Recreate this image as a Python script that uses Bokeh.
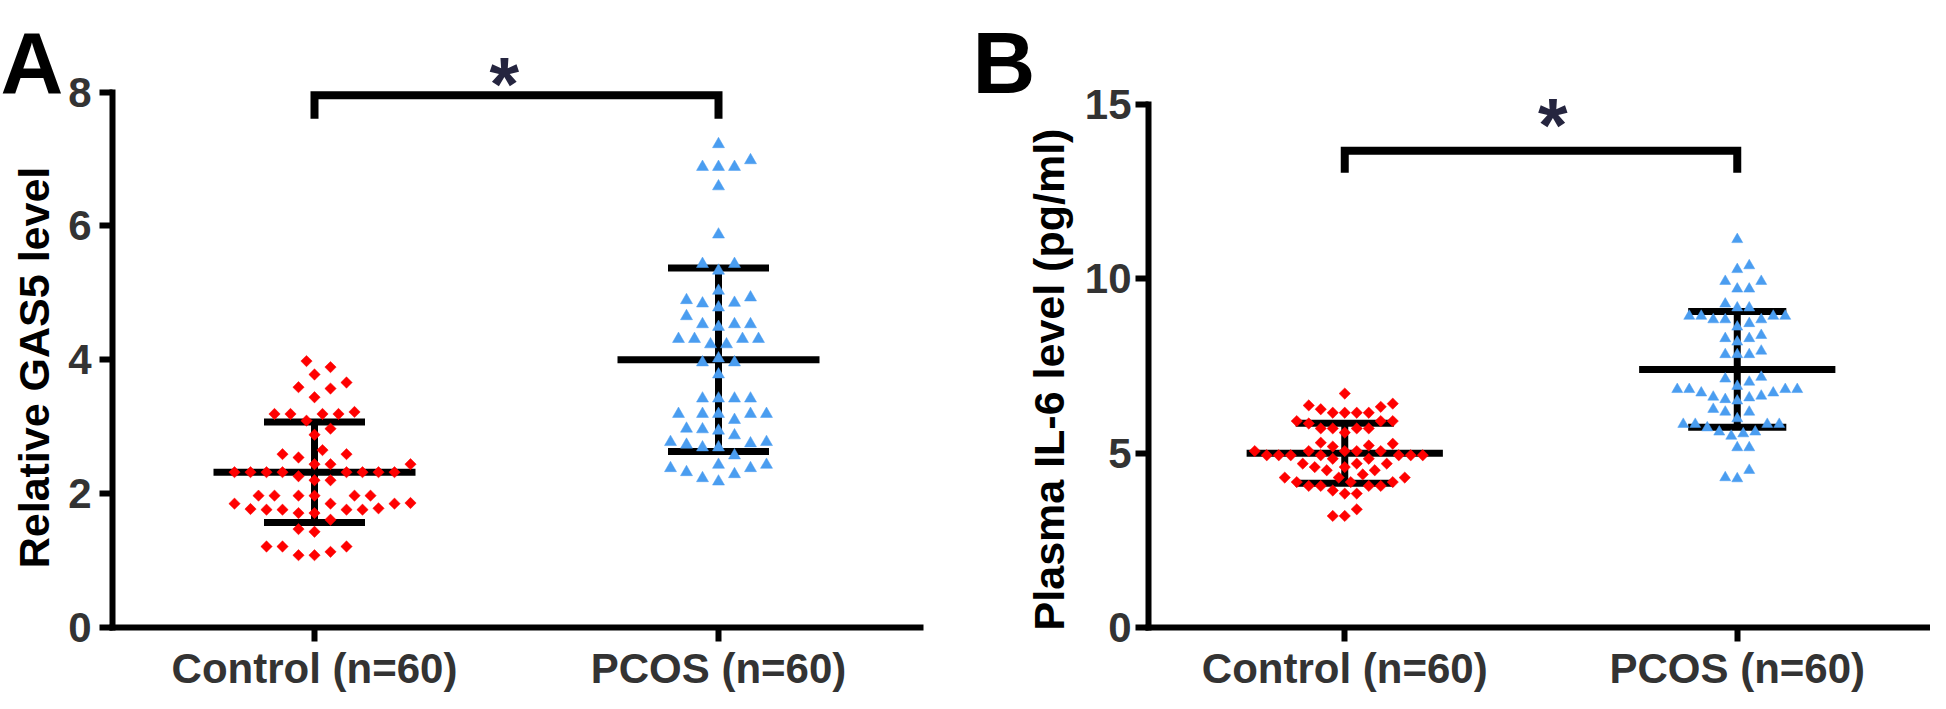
import numpy as np
from bokeh.plotting import figure
from bokeh.layouts import row
from bokeh.models import Range1d, FixedTicker
from bokeh.embed import file_html
from bokeh.resources import INLINE
from bokeh.core.properties import value

# ---------------- data ----------------
categories = ["Control (n=60)", "PCOS (n=60)"]
cat_pos = [1, 2]

gas5_control = [3.98, 3.89, 3.78, 3.59, 3.57, 3.66, 3.44,
                3.19, 3.19, 3.19, 3.19, 3.22, 3.09, 2.97, 2.88,
                2.65, 2.59, 2.54, 2.59, 2.44, 2.44, 2.44,
                2.32, 2.32, 2.32, 2.32, 2.32, 2.32, 2.32, 2.32,
                2.26, 2.20, 2.20,
                1.97, 1.97, 1.97, 1.97, 1.97, 1.97,
                1.85, 1.85, 1.85, 1.86,
                1.77, 1.76, 1.76, 1.71, 1.71, 1.76, 1.76, 1.78,
                1.61, 1.47, 1.43, 1.21, 1.21, 1.21, 1.13, 1.08, 1.08]
gas5_pcos = [7.22, 6.98, 6.88, 6.88, 6.88, 6.59, 5.87, 5.43, 5.43, 5.33,
             5.03, 4.89, 4.93, 4.84, 4.78, 4.85, 4.65, 4.53, 4.53, 4.49,
             4.53, 4.31, 4.31, 4.31, 4.31, 4.23, 4.23, 4.02, 3.96, 3.96,
             3.78, 3.42, 3.42, 3.42, 3.42, 3.19, 3.19, 3.19, 3.19, 3.19,
             3.10, 2.87, 2.96, 2.94, 2.97, 2.77, 2.73, 2.75, 2.77, 2.69,
             2.69, 2.57, 2.38, 2.43, 2.43, 2.32, 2.38, 2.29, 2.18, 2.23]
il6_control = [6.71, 6.42, 6.33, 6.37, 6.26, 6.16, 6.16, 6.16, 6.16,
               5.92, 5.92, 5.92, 5.85, 5.71, 5.71, 5.71, 5.71, 5.59,
               5.30, 5.27, 5.22, 5.19, 5.06, 5.06, 5.06, 5.06, 5.06,
               4.94, 4.94, 4.94, 4.94, 4.94, 4.94, 4.94, 4.84, 4.84,
               4.70, 4.70, 4.70, 4.60, 4.60, 4.51, 4.51, 4.39,
               4.30, 4.17, 4.17, 4.17, 4.30, 4.30,
               4.06, 4.06, 4.06, 4.06, 3.84, 3.84, 3.93, 3.39, 3.20, 3.20]
il6_pcos = [11.13, 10.38, 10.27, 9.93, 9.93, 9.71, 9.71, 9.17, 9.28, 9.17,
            8.83, 8.93, 8.93, 8.93, 8.93, 8.83, 8.83, 8.72, 8.62, 8.38,
            8.29, 8.29, 8.19, 7.93, 7.83, 7.83, 7.83, 7.13, 7.18, 6.92,
            7.04, 6.83, 6.83, 6.83, 6.83, 6.64, 6.73, 6.73, 6.59, 6.54,
            6.61, 6.50, 6.26, 6.18, 6.18, 5.99, 5.83, 5.83, 5.73, 5.83,
            5.83, 5.61, 5.56, 5.49, 5.61, 5.16, 5.16, 4.51, 4.27, 4.30]

gas5_mean = [2.32, 4.00]
gas5_sd = [0.75, 1.37]
il6_mean = [5.00, 7.40]
il6_sd = [0.86, 1.66]

# ---------------- style / layout ----------------
FONT = "Liberation Sans"
RED = "#ff0000"
BLUE = "#4a9df0"
TICK_COLOR = "#333333"
STAR_COLOR = "#25253f"
FIG_H = 693          # page y 8 .. 701
PAGE_TOP = 8
Y0_PAGE = 635        # page y of value 0


def swarm(vals, ppx, ppy, step, dist):
    vals = np.asarray(vals, dtype=float)
    order = np.argsort(vals)
    placed = []
    offs = np.zeros(len(vals))
    for k, i in enumerate(order):
        y = vals[i] * ppy
        cands = [0.0]
        for m in range(1, 80):
            a, b = m * step, -m * step
            cands += [a, b] if k % 2 == 0 else [b, a]
        chosen = 0.0
        for c in cands:
            if all((c - px) ** 2 + (y - py) ** 2 >= dist ** 2 for px, py in placed):
                chosen = c
                break
        placed.append((chosen, y))
        offs[i] = chosen / ppx
    return offs


def panel(page_left, width, axis_page_x, x_ppu, y_axis_max, y_top_page, ticks, ylabel,
          ylabel_pos, ctrl, pcos, mean, sd, bracket_top, bracket_drop, star_xy,
          letter, letter_page, ytick_standoff, swarm_step, swarm_dist, tri_size):
    y_ppu = (Y0_PAGE - y_top_page) / y_axis_max
    # page -> data helpers
    to_x = lambda px: 0.5 + (px - axis_page_x) / x_ppu
    to_y = lambda py: (Y0_PAGE - py) / y_ppu

    x_start = to_x(page_left)
    x_end = to_x(page_left + width)
    y_start = to_y(PAGE_TOP + FIG_H)
    y_end = to_y(PAGE_TOP)

    p = figure(width=width, height=FIG_H, output_backend="svg", toolbar_location=None,
               x_range=Range1d(x_start, x_end), y_range=Range1d(y_start, y_end),
               min_border_left=0, min_border_right=0,
               min_border_top=0, min_border_bottom=0)
    p.outline_line_color = None
    p.grid.visible = False
    p.background_fill_color = "white"
    p.border_fill_color = "white"

    # error bars (mean +/- SD)
    half_mean, half_cap = 0.25, 0.125
    for c, m, s in zip(cat_pos, mean, sd):
        p.segment(x0=[c], y0=[m - s], x1=[c], y1=[m + s], line_color="black", line_width=7)
        p.segment(x0=[c - half_mean], y0=[m], x1=[c + half_mean], y1=[m],
                  line_color="black", line_width=7)
        p.segment(x0=[c - half_cap, c - half_cap], y0=[m + s, m - s],
                  x1=[c + half_cap, c + half_cap], y1=[m + s, m - s],
                  line_color="black", line_width=7)

    # points
    off_c = swarm(ctrl, x_ppu, y_ppu, swarm_step, swarm_dist)
    off_p = swarm(pcos, x_ppu, y_ppu, swarm_step, swarm_dist)
    p.scatter(x=cat_pos[0] + off_c, y=ctrl, marker="square", size=8, angle=np.pi / 4,
              fill_color=RED, line_color=RED, line_width=0.5)
    p.scatter(x=cat_pos[1] + off_p, y=pcos, marker="triangle", size=tri_size,
              fill_color=BLUE, line_color=BLUE, line_width=0.5)

    # significance bracket and star
    p.line(x=[cat_pos[0], cat_pos[0], cat_pos[1], cat_pos[1]],
           y=[bracket_drop, bracket_top, bracket_top, bracket_drop],
           line_color="black", line_width=8, line_join="miter")
    p.text(x=[star_xy[0]], y=[star_xy[1]], text=["*"], text_font=value(FONT),
           text_font_style="bold", text_font_size="76px", text_color=STAR_COLOR,
           text_align="center", text_baseline="alphabetic", y_offset=18)

    # y axis title (rotated)
    p.text(x=[to_x(ylabel_pos[0])], y=[to_y(ylabel_pos[1])], text=[ylabel], angle=np.pi / 2,
           text_font=value(FONT), text_font_style="bold", text_font_size="43px",
           text_color="black", text_align="center", text_baseline="middle")

    # panel letter
    p.text(x=[to_x(letter_page[0])], y=[to_y(letter_page[1])], text=[letter],
           text_font=value(FONT), text_font_style="bold", text_font_size="87px",
           text_color="black", text_align="left", text_baseline="alphabetic")

    # axes
    yax = p.yaxis[0]
    yax.fixed_location = 0.5
    yax.ticker = FixedTicker(ticks=ticks)
    yax.bounds = (0, y_axis_max)
    yax.axis_line_width = 6
    yax.axis_line_cap = "square"
    yax.major_tick_line_width = 6
    yax.major_tick_in = 0
    yax.major_tick_out = 13
    yax.minor_tick_line_color = None
    yax.major_label_text_font = FONT
    yax.major_label_text_font_size = "42px"
    yax.major_label_text_font_style = "bold"
    yax.major_label_text_color = TICK_COLOR
    yax.major_label_standoff = ytick_standoff

    xax = p.xaxis[0]
    xax.fixed_location = 0
    xax.ticker = FixedTicker(ticks=cat_pos)
    xax.bounds = (0.5, min(2.5, x_end))
    xax.major_label_overrides = {c: lab for c, lab in zip(cat_pos, categories)}
    xax.axis_line_width = 6
    xax.axis_line_cap = "square"
    xax.major_tick_line_width = 6
    xax.major_tick_in = 0
    xax.major_tick_out = 14
    xax.minor_tick_line_color = None
    xax.major_label_text_font = FONT
    xax.major_label_text_font_size = "42px"
    xax.major_label_text_font_style = "bold"
    xax.major_label_text_color = TICK_COLOR
    xax.major_label_standoff = 3
    return p


pA = panel(8, 960, 120, 404.0, 8, 99.5, [0, 2, 4, 6, 8], "Relative GAS5 level", (41, 375),
           gas5_control, gas5_pcos, gas5_mean, gas5_sd, 7.95, 7.6, (1.47, 8.39),
           "A", (8, 70), 8, 8.0, 15.0, 12)
pB = panel(968, 970, 1156, 392.5, 15, 112, [0, 5, 10, 15], "Plasma IL-6 level (pg/ml)",
           (1056, 387), il6_control, il6_pcos, il6_mean, il6_sd, 13.67, 13.04, (1.53, 14.93),
           "B", (980, 70), 4, 6.0, 12.0, 11)

layout = row(pA, pB)
open("out.html", "w").write(file_html(layout, INLINE))
